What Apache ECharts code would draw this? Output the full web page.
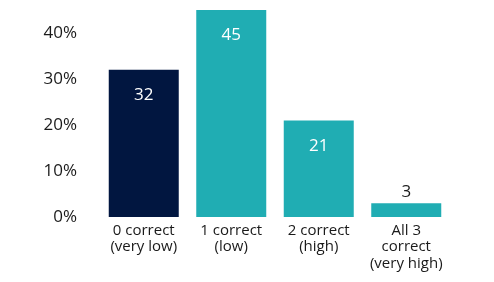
<!DOCTYPE html>
<html><head><meta charset="utf-8">
<script src="https://cdn.jsdelivr.net/npm/echarts@6/dist/echarts.min.js"></script>
<style>html,body{margin:0;padding:0;background:#fff}#c{width:494px;height:282px}</style>
</head><body><div id="c"></div>
<script>
const categories = ['0 correct\n(very low)', '1 correct\n(low)', '2 correct\n(high)', 'All 3\ncorrect\n(very high)'];
const values = [32, 45, 21, 3];
const barColors = ['#011640', '#20ADB3', '#20ADB3', '#20ADB3'];
const labelInside = [true, true, true, false];

const font = '"Open Sans", Lato, sans-serif';
const chart = echarts.init(document.getElementById('c'), null, {renderer: 'canvas'});
chart.setOption({
  animation: false,
  grid: {left: 100, width: 350, top: 10, height: 207, containLabel: false},
  xAxis: {
    type: 'category', data: categories,
    axisLine: {show: false}, axisTick: {show: false},
    axisLabel: {color: '#1a1a1a', fontFamily: font, fontSize: 15, lineHeight: 16.5, margin: 5, interval: 0}
  },
  yAxis: {
    type: 'value', min: 0, max: 45, interval: 10,
    splitLine: {show: false}, axisLine: {show: false}, axisTick: {show: false},
    axisLabel: {color: '#1a1a1a', fontFamily: font, fontSize: 17, margin: 23,
      formatter: v => (v % 10 === 0 ? v + '%' : '')}
  },
  series: [{
    type: 'bar', barWidth: 70,
    data: values.map((v, i) => ({
      value: v,
      itemStyle: {color: barColors[i]},
      label: labelInside[i]
        ? {show: true, position: 'insideTop', distance: 17, color: '#fff', fontSize: 17, fontFamily: font}
        : {show: true, position: 'top', distance: 3, color: '#1a1a1a', fontSize: 17, fontFamily: font}
    }))
  }]
});
</script></body></html>
